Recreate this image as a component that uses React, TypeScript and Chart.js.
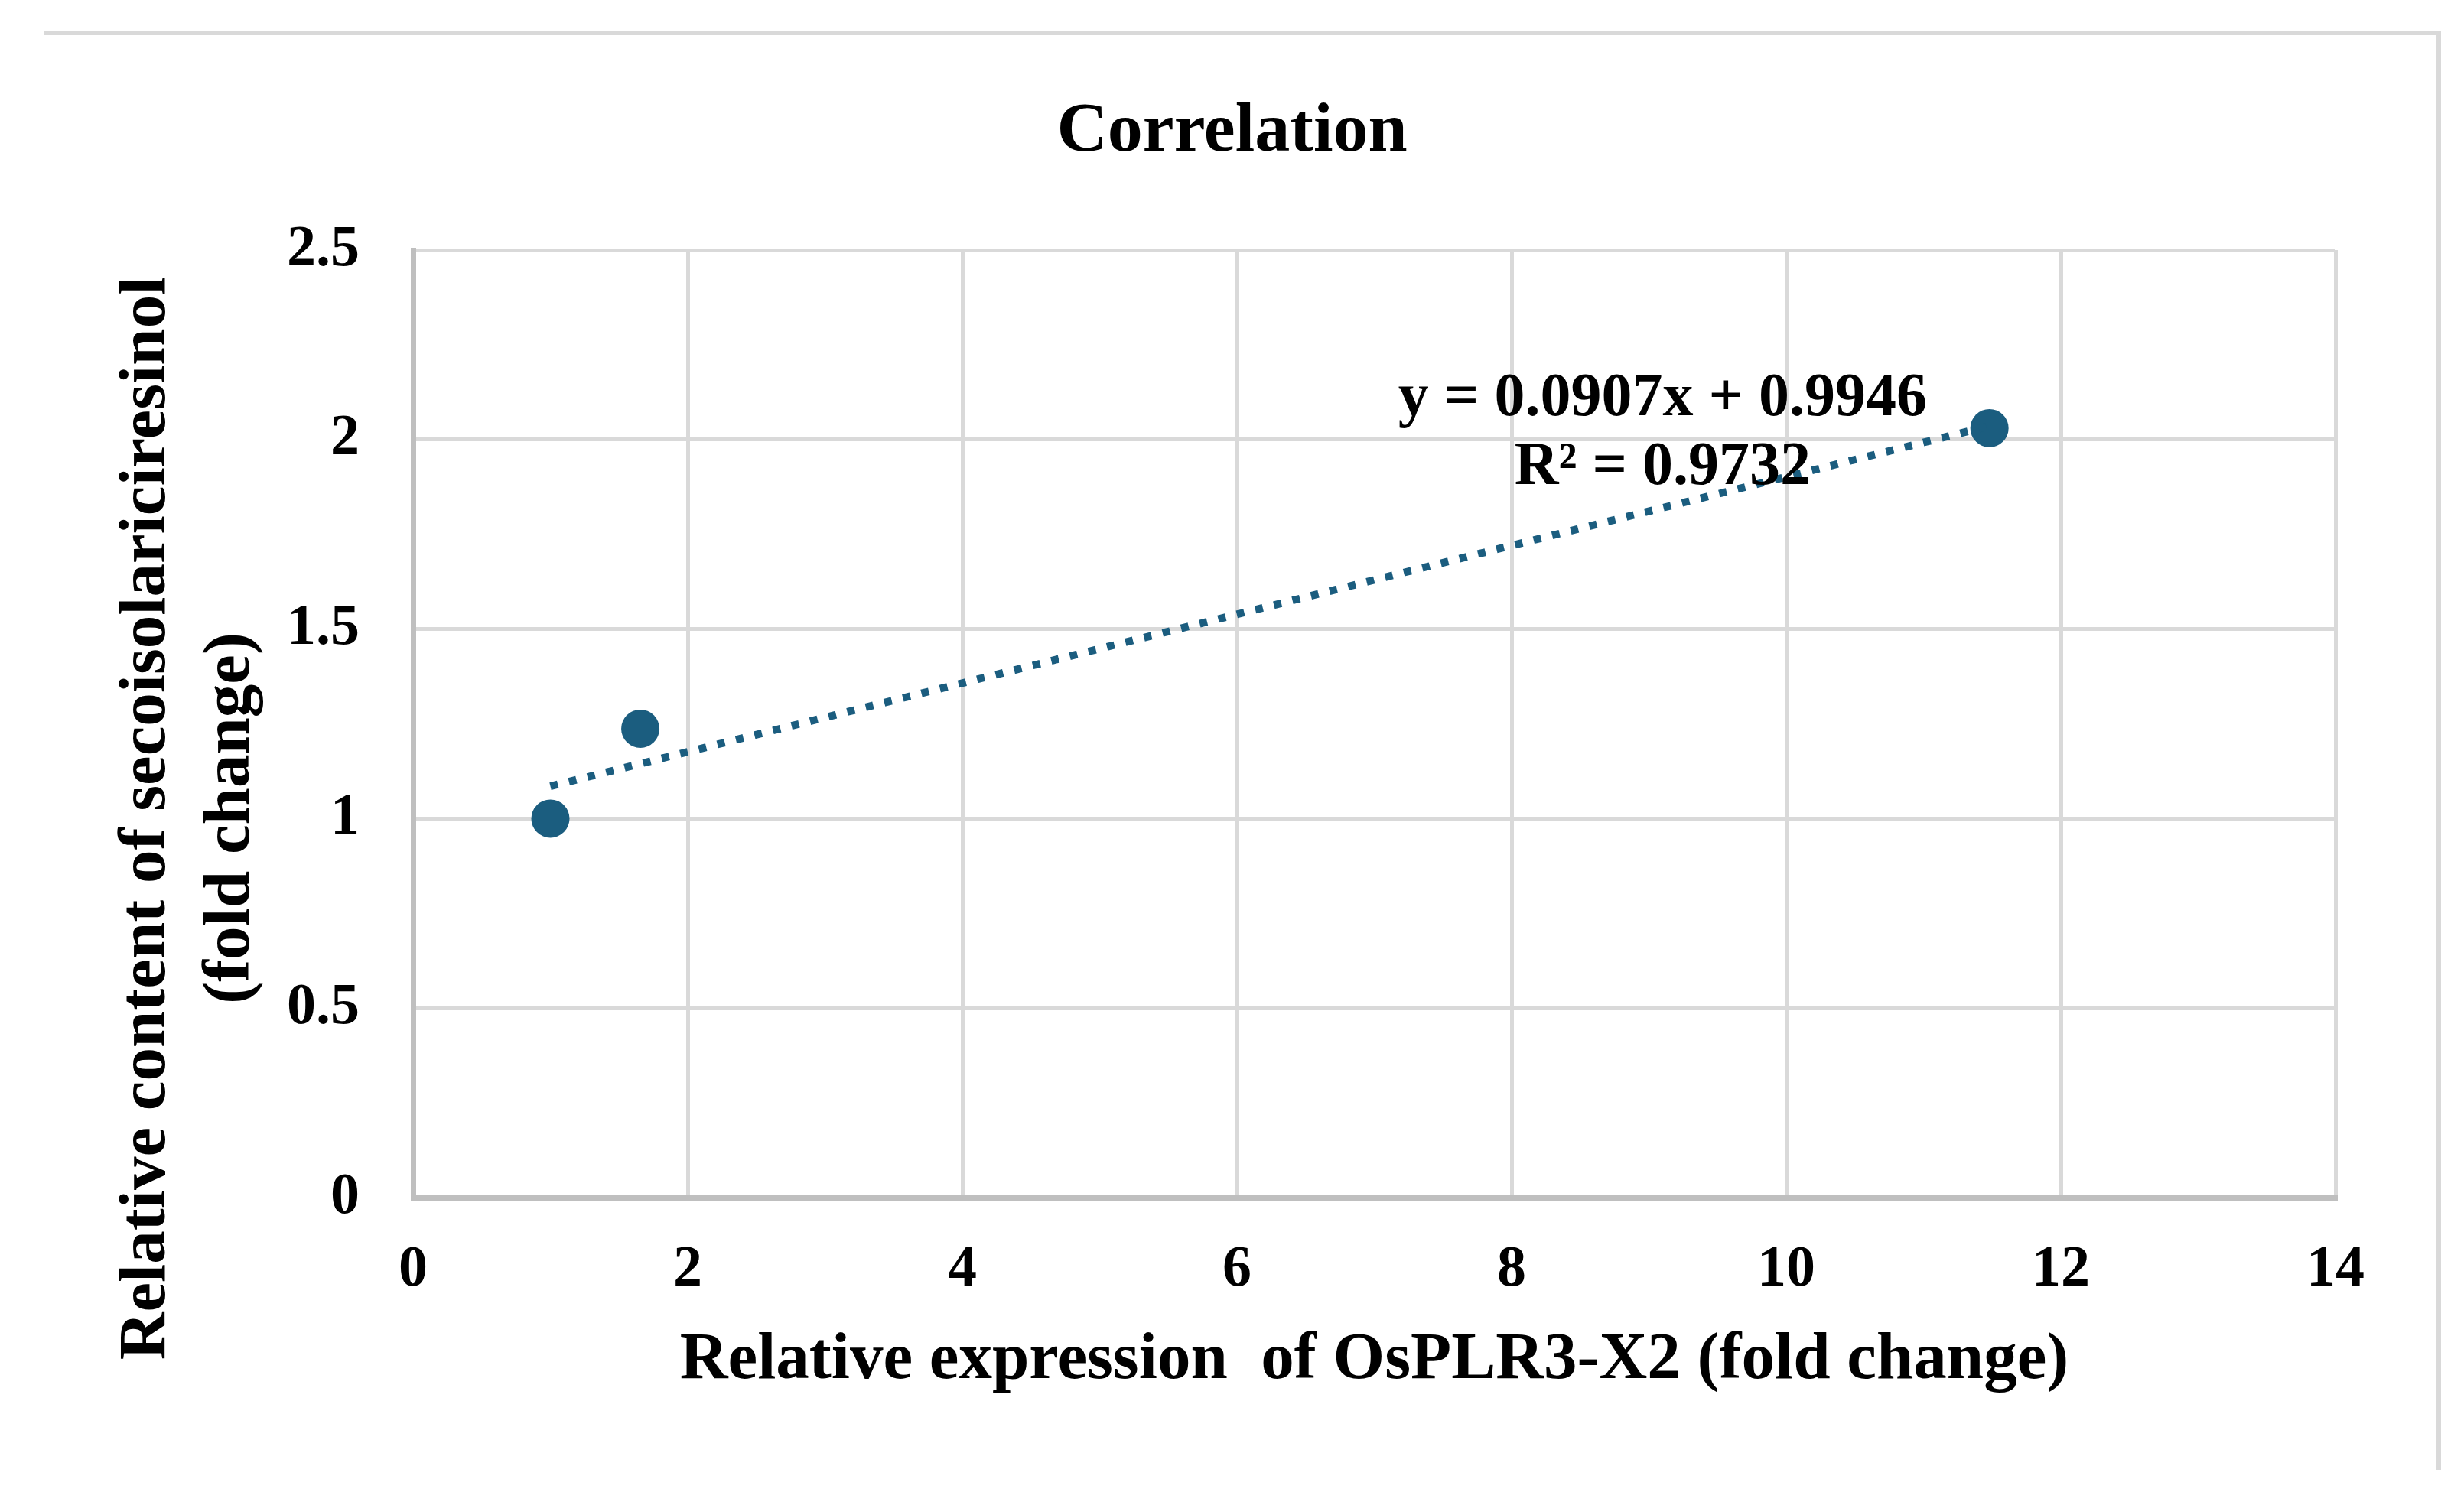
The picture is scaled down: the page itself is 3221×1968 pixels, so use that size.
import { useEffect, useRef } from "react";
import { Chart, registerables } from "chart.js";

Chart.register(...registerables);

// values
const expressionFold = [1.0, 1.655, 11.48];
const contentFold = [1.0, 1.237, 2.03];

// fitted trendline shown in the figure
const slope = 0.0907;
const intercept = 0.9946;
const equationLines = ["y = 0.0907x + 0.9946", "R² = 0.9732"];

const xTicks = [0, 2, 4, 6, 8, 10, 12, 14];
const yTicks = [0, 0.5, 1, 1.5, 2, 2.5];

const chartTitle = "Correlation";
const xTitle = "Relative expression  of OsPLR3-X2 (fold change)";
const yTitleLines = ["Relative content of secoisolariciresinol", "(fold change)"];

const FONT = "'Liberation Serif', 'Times New Roman', serif";
const BLUE = "#1b5d7f";

const textPlugin = {
  id: "extraText",
  afterDraw(chart: Chart) {
    const { ctx, scales } = chart;
    const xs = scales.x;
    const ys = scales.y;
    ctx.save();
    ctx.fillStyle = "#000";

    // title
    ctx.font = `bold 92px ${FONT}`;
    ctx.textAlign = "center";
    ctx.textBaseline = "alphabetic";
    ctx.fillText(chartTitle, chart.width / 2, 197);

    // equation / R² next to the trendline
    ctx.font = `bold 80px ${FONT}`;
    const ex = xs.getPixelForValue(9.1);
    const ey = ys.getPixelForValue(2.064);
    ctx.fillText(equationLines[0], ex, ey);
    ctx.fillText(equationLines[1], ex, ey + 90);

    // y axis title, two rotated lines
    ctx.font = `bold 87px ${FONT}`;
    ctx.textBaseline = "middle";
    ctx.translate(193, 1070);
    ctx.rotate(-Math.PI / 2);
    ctx.fillText(yTitleLines[0], 0, 0);
    ctx.fillText(yTitleLines[1], 0, 110);
    ctx.restore();
  },
};

export default function App() {
  const canvasRef = useRef<HTMLCanvasElement | null>(null);

  useEffect(() => {
    const canvas = canvasRef.current;
    if (!canvas) return;

    const trendX = [expressionFold[0], expressionFold[expressionFold.length - 1]];

    const chart = new Chart(canvas, {
      type: "scatter",
      data: {
        datasets: [
          {
            type: "line",
            label: "Linear trend",
            data: trendX.map((x) => ({ x, y: slope * x + intercept })),
            borderColor: BLUE,
            borderWidth: 10,
            borderDash: [10, 15],
            borderCapStyle: "butt",
            pointRadius: 0,
            fill: false,
          },
          {
            label: "Correlation",
            data: expressionFold.map((x, i) => ({ x, y: contentFold[i] })),
            backgroundColor: BLUE,
            borderColor: BLUE,
            borderWidth: 0,
            pointRadius: 25,
          },
        ],
      },
      options: {
        responsive: false,
        animation: false,
        layout: { padding: { top: 327, right: 168, left: 0, bottom: 0 } },
        plugins: {
          legend: { display: false },
          tooltip: { enabled: false },
          title: { display: false },
        },
        scales: {
          x: {
            type: "linear",
            min: 0,
            max: 14,
            afterBuildTicks: (scale: any) => {
              scale.ticks = xTicks.map((value) => ({ value }));
            },
            afterFit: (scale: any) => {
              scale.height = 402;
            },
            grid: { color: "#d9d9d9", lineWidth: 5, drawTicks: false },
            border: { display: true, color: "#bfbfbf", width: 7 },
            ticks: {
              padding: 50,
              color: "#000",
              font: { family: FONT, size: 76, weight: "bold" },
              callback: (v: any) => String(v),
            },
            title: {
              display: true,
              text: xTitle,
              color: "#000",
              font: { family: FONT, size: 87, weight: "bold" },
              padding: { top: 40, bottom: 136 },
            },
          },
          y: {
            type: "linear",
            min: 0,
            max: 2.5,
            afterBuildTicks: (scale: any) => {
              scale.ticks = yTicks.map((value) => ({ value }));
            },
            afterFit: (scale: any) => {
              scale.width = 540;
            },
            grid: { color: "#d9d9d9", lineWidth: 5, drawTicks: false },
            border: { display: true, color: "#bfbfbf", width: 7 },
            ticks: {
              padding: 70,
              color: "#000",
              font: { family: FONT, size: 76, weight: "bold" },
              callback: (v: any) => String(v),
            },
          },
        },
      },
      plugins: [textPlugin],
    });

    return () => chart.destroy();
  }, []);

  return (
    <div
      style={{
        position: "fixed",
        left: 0,
        top: 0,
        width: 3221,
        height: 1968,
        background: "#fff",
      }}
    >
      <canvas ref={canvasRef} width={3221} height={1968} style={{ display: "block" }} />
      <div
        style={{
          position: "absolute",
          left: 58,
          top: 40,
          width: 3133,
          height: 1882,
          boxSizing: "border-box",
          borderTop: "6px solid #d9d9d9",
          borderRight: "6px solid #d9d9d9",
          pointerEvents: "none",
        }}
      />
    </div>
  );
}
